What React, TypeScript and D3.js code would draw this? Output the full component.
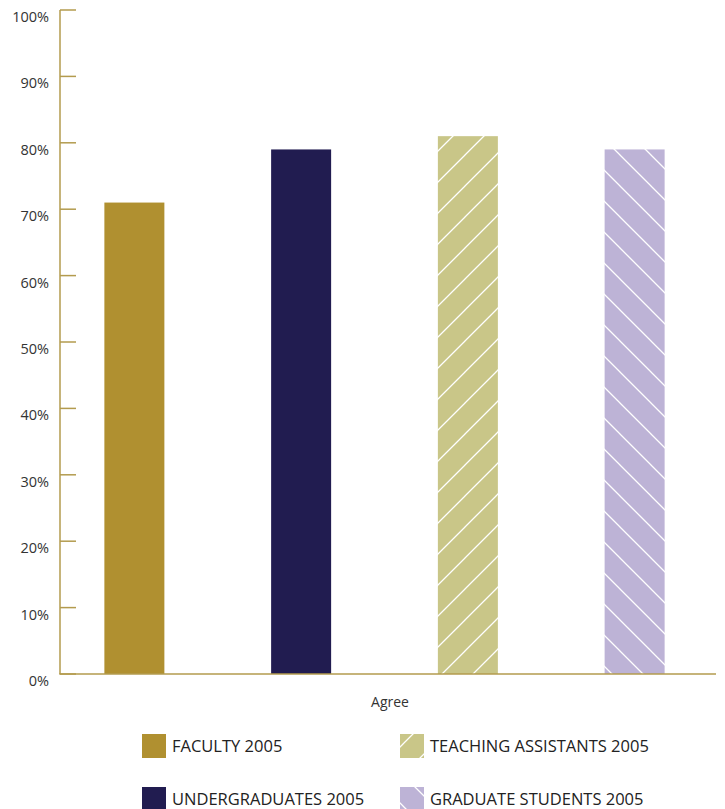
import React from "react";
import * as d3 from "d3";

const series = ["FACULTY 2005", "UNDERGRADUATES 2005", "TEACHING ASSISTANTS 2005", "GRADUATE STUDENTS 2005"];
const values = [71, 79, 81, 79];
const fills = ["#B09030", "#211C50", "#C9C688", "#BDB3D6"];
const hatch = ["none", "none", "up", "down"];
const category = "Agree";
const yTicks = [0, 10, 20, 30, 40, 50, 60, 70, 80, 90, 100];

const W = 725;
const H = 809;
const axisColor = "#B39B4E";
const font = "'Open Sans', 'Noto Sans', sans-serif";

export default function App() {
  const y = d3.scaleLinear().domain([0, 100]).range([674, 10]);
  const x = d3.scalePoint<string>().domain(series).range([51, 718]).padding(0.5);
  const barW = 60;

  const fillFor = (i: number) =>
    hatch[i] === "up" ? "url(#hatchUp)" : hatch[i] === "down" ? "url(#hatchDown)" : fills[i];

  const legendPos = [
    { x: 142, y: 734, tx: 172 },
    { x: 142, y: 787, tx: 172 },
    { x: 400, y: 734, tx: 430 },
    { x: 400, y: 787, tx: 430 },
  ];

  const P = 31;

  return (
    <svg width={W} height={H} style={{ position: "absolute", left: 0, top: 0 }}>
      <defs>
        <pattern id="hatchUp" patternUnits="userSpaceOnUse" width={P} height={P}>
          <rect width={P} height={P} fill={fills[2]} />
          <path
            d={`M-2,${P + 2} L${P + 2},-2 M-2,2 L2,-2 M${P - 2},${P + 2} L${P + 2},${P - 2}`}
            stroke="#fff"
            strokeWidth={1.3}
          />
        </pattern>
        <pattern id="hatchDown" patternUnits="userSpaceOnUse" width={P} height={P}>
          <rect width={P} height={P} fill={fills[3]} />
          <path
            d={`M-2,-2 L${P + 2},${P + 2} M${P - 2},-2 L${P + 2},2 M-2,${P - 2} L2,${P + 2}`}
            stroke="#fff"
            strokeWidth={1.3}
          />
        </pattern>
      </defs>

      {yTicks.map((t) => (
        <g key={t}>
          <line x1={60} x2={76} y1={y(t)} y2={y(t)} stroke={axisColor} strokeWidth={1.5} />
          <text
            x={49}
            y={y(t) + 12}
            textAnchor="end"
            fontFamily={font}
            fontSize={14.5}
            fill="#333"
          >
            {t}%
          </text>
        </g>
      ))}

      {series.map((s, i) => (
        <rect
          key={s}
          x={(x(s) as number) - barW / 2}
          y={y(values[i])}
          width={barW}
          height={y(0) - y(values[i])}
          fill={fillFor(i)}
        />
      ))}

      <line x1={60} x2={60} y1={y(100)} y2={y(0)} stroke={axisColor} strokeWidth={1.5} />
      <line x1={59.25} x2={716} y1={y(0)} y2={y(0)} stroke={axisColor} strokeWidth={1.5} />

      <text x={390} y={707} textAnchor="middle" fontFamily={font} fontSize={14} fill="#333">
        {category}
      </text>

      {series.map((s, i) => (
        <g key={"lg" + s}>
          <rect x={legendPos[i].x} y={legendPos[i].y} width={24} height={24} fill={fillFor(i)} />
          <text
            x={legendPos[i].tx}
            y={legendPos[i].y + 18}
            fontFamily={font}
            fontSize={16.5}
            fill="#222"
          >
            {s}
          </text>
        </g>
      ))}
    </svg>
  );
}
